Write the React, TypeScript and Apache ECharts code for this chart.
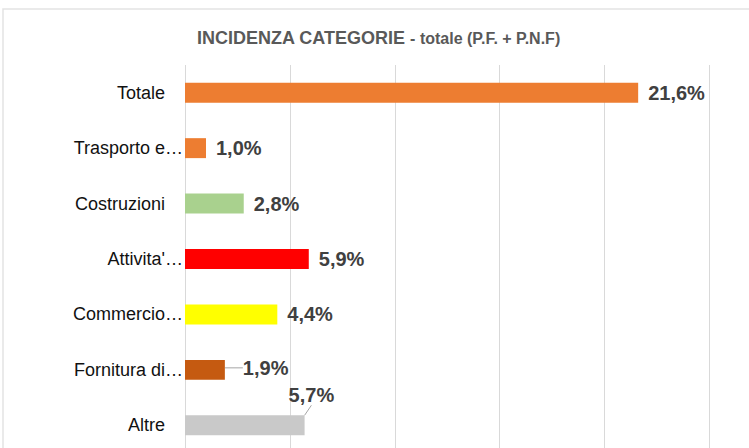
import React, { useEffect, useRef } from "react";
import * as echarts from "echarts";

const categories = ["Totale", "Trasporto e…", "Costruzioni", "Attivita'…", "Commercio…", "Fornitura di…", "Altre"];
const values = [21.6, 1.0, 2.8, 5.9, 4.4, 1.9, 5.7];
const barColors = ["#ED7D31", "#ED7D31", "#A9D18E", "#FF0000", "#FFFF00", "#C55A11", "#C9C9C9"];
const titleMain = "INCIDENZA CATEGORIE";
const titleSub = " - totale (P.F. + P.N.F)";
const axisMin = 0;
const axisMax = 25;
const axisStep = 5;

const FONT = "'Liberation Sans', Arial, sans-serif";

export default function App() {
  const ref = useRef<HTMLDivElement>(null);
  useEffect(() => {
    if (!ref.current) return;
    const chart = echarts.init(ref.current, undefined, { renderer: "svg" });
    chart.setOption({
      animation: false,
      backgroundColor: "#ffffff",
      title: {
        left: 192,
        top: 24,
        text: `{a|${titleMain}}{b|${titleSub}}`,
        textStyle: {
          rich: {
            a: { fontFamily: FONT, fontWeight: "bold", fontSize: 18, color: "#595959" },
            b: { fontFamily: FONT, fontWeight: "bold", fontSize: 16, color: "#595959" },
          },
        },
      },
      graphic: [
        {
          type: "rect",
          shape: { x: 3, y: 9, width: 800, height: 500 },
          style: { fill: "none", stroke: "#e3e3e3", lineWidth: 1.5 },
          silent: true,
        },
      ],
      grid: { left: 185, top: 65, width: 524.5, height: 388, containLabel: false },
      xAxis: {
        type: "value",
        min: axisMin,
        max: axisMax,
        interval: axisStep,
        axisLabel: { show: false },
        axisLine: { show: false },
        axisTick: { show: false },
        splitLine: { show: true, lineStyle: { color: "#d9d9d9", width: 1 } },
      },
      yAxis: {
        type: "category",
        inverse: true,
        data: categories,
        axisLine: { show: false },
        axisTick: { show: false },
        axisLabel: {
          margin: 2,
          formatter: (v: string) => (v.endsWith("…") ? `{t|${v}}` : `{f|${v}}`),
          rich: {
            t: { fontFamily: FONT, fontSize: 18, color: "#111111" },
            f: { fontFamily: FONT, fontSize: 18, color: "#111111", padding: [0, 18, 0, 0] },
          },
        },
      },
      series: [
        {
          type: "bar",
          data: values.map((v, i) => ({
            value: v,
            itemStyle: { color: barColors[i] },
            labelLine: { show: i >= 5 },
          })),
          barCategoryGap: "64%",
          label: {
            show: true,
            position: "right",
            distance: 10,
            fontFamily: FONT,
            fontWeight: "bold",
            fontSize: 20,
            color: "#404040",
            formatter: (p: any) => p.value.toFixed(1).replace(".", ",") + "%",
          },
          labelLine: { show: false, lineStyle: { color: "#a6a6a6", width: 1 } },
          labelLayout: (p: any) => {
            if (p.dataIndex === 5) return { dx: 8, dy: -2 };
            if (p.dataIndex === 6) return { dx: -26, dy: -30 };
            return {};
          },
        },
      ],
    });
    return () => chart.dispose();
  }, []);
  return (
    <div style={{ position: "fixed", left: 0, top: 0, width: 749, height: 448, overflow: "hidden" }}>
      <div ref={ref} style={{ width: 749, height: 460 }} />
    </div>
  );
}
